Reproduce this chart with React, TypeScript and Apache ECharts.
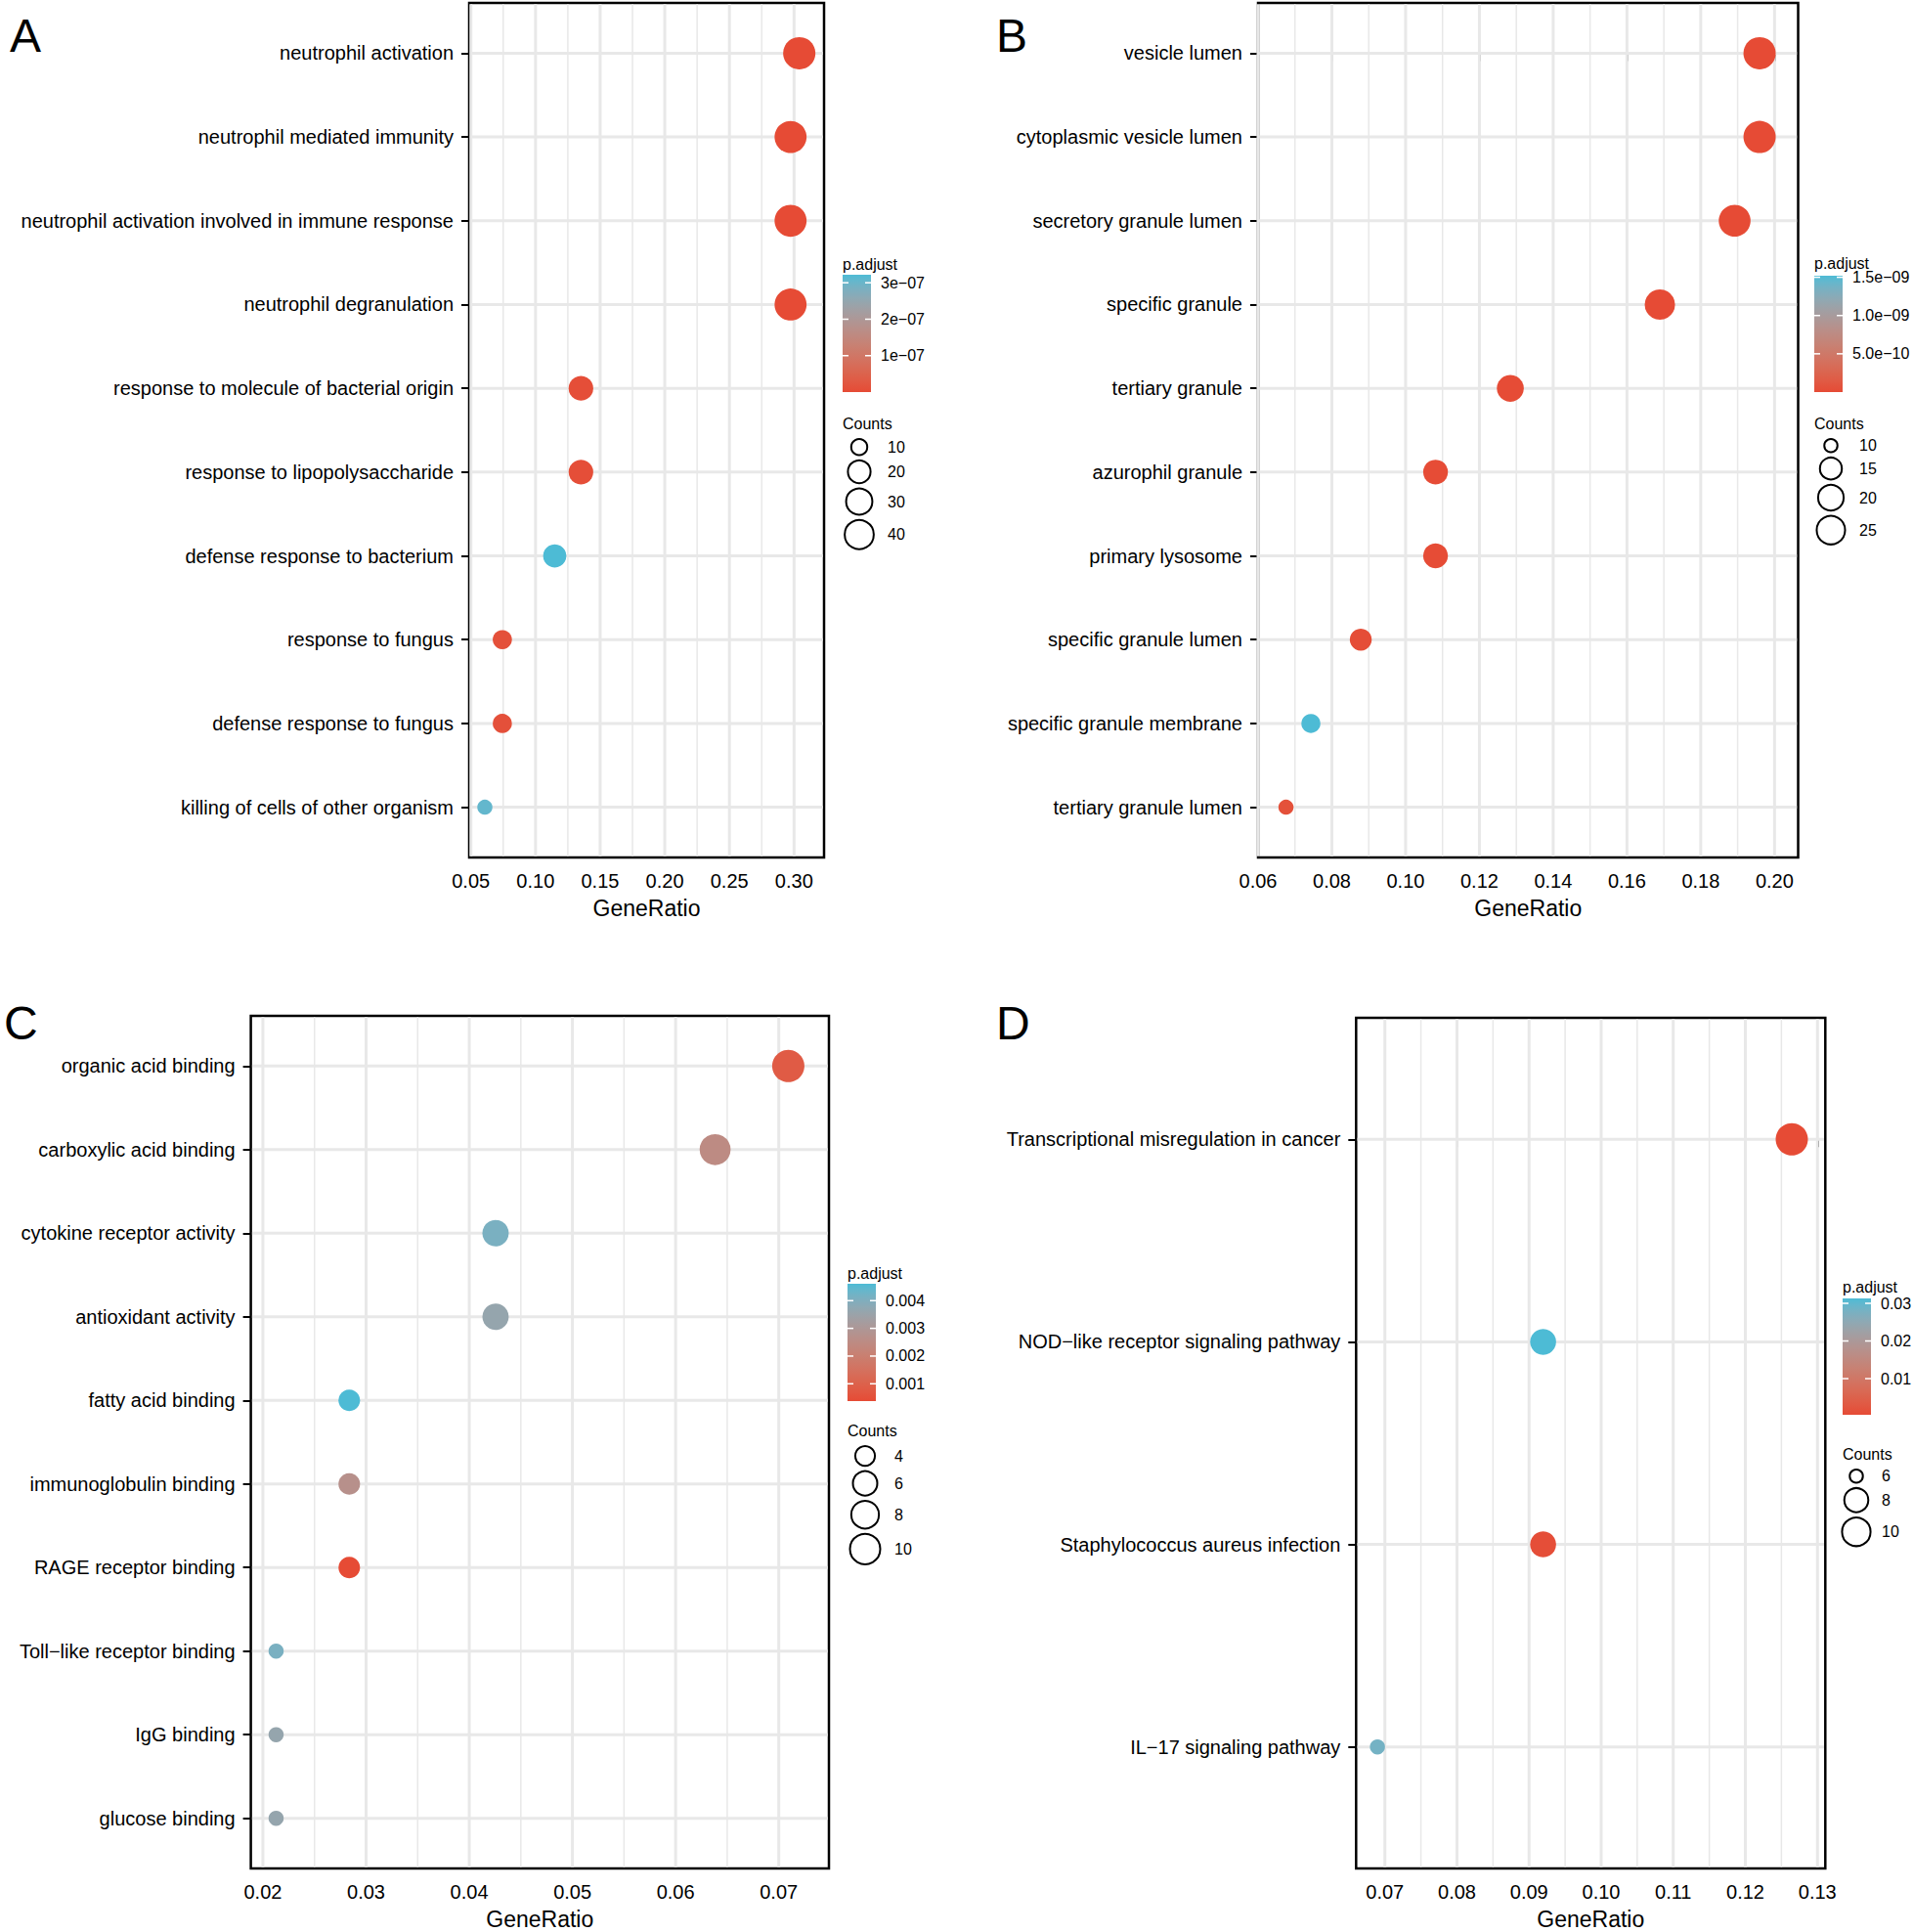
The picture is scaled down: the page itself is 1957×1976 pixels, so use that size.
import React, { useEffect, useRef } from "react";
import * as echarts from "echarts";

const FONT = "'Liberation Sans', Arial, Helvetica, sans-serif";
const LOW = "#E64B35";
const HIGH = "#4DBBD5";
const GRID_COLOR = "#E8E8E8";

// ---------- Panel A ----------
const catsA = [
  "neutrophil activation",
  "neutrophil mediated immunity",
  "neutrophil activation involved in immune response",
  "neutrophil degranulation",
  "response to molecule of bacterial origin",
  "response to lipopolysaccharide",
  "defense response to bacterium",
  "response to fungus",
  "defense response to fungus",
  "killing of cells of other organism",
];
const ratioA = [0.30405, 0.2973, 0.2973, 0.2973, 0.13514, 0.13514, 0.11486, 0.07432, 0.07432, 0.06081];
const countA = [45, 44, 44, 44, 20, 20, 17, 11, 11, 9];
const padjA = [1.0e-10, 1.2e-10, 1.2e-10, 1.5e-10, 6e-9, 6e-9, 3.22e-7, 1.0e-8, 1.0e-8, 3.06e-7];
const xRangeA = [0.0487, 0.3232];
const xTicksA = [0.05, 0.1, 0.15, 0.2, 0.25, 0.3];
const xMinorA = [0.075, 0.125, 0.175, 0.225, 0.275];
const cTicksA = [1e-7, 2e-7, 3e-7];
const cLabelsA = ["1e\u221207", "2e\u221207", "3e\u221207"];
const sizeLegendA = [10, 20, 30, 40];

// ---------- Panel B ----------
const catsB = [
  "vesicle lumen",
  "cytoplasmic vesicle lumen",
  "secretory granule lumen",
  "specific granule",
  "tertiary granule",
  "azurophil granule",
  "primary lysosome",
  "specific granule lumen",
  "specific granule membrane",
  "tertiary granule lumen",
];
const ratioB = [0.19595, 0.19595, 0.18919, 0.16892, 0.12838, 0.10811, 0.10811, 0.08784, 0.07432, 0.06757];
const countB = [29, 29, 28, 25, 19, 16, 16, 13, 11, 10];
const padjB = [1e-14, 1e-14, 2e-13, 1e-12, 5e-12, 1e-11, 1e-11, 2e-11, 1.52e-9, 5e-11];
const xRangeB = [0.0600, 0.2064];
const xTicksB = [0.06, 0.08, 0.1, 0.12, 0.14, 0.16, 0.18, 0.2];
const xMinorB = [0.07, 0.09, 0.11, 0.13, 0.15, 0.17, 0.19];
const cTicksB = [5e-10, 1e-9, 1.5e-9];
const cLabelsB = ["5.0e\u221210", "1.0e\u221209", "1.5e\u221209"];
const sizeLegendB = [10, 15, 20, 25];

// ---------- Panel C ----------
const catsC = [
  "organic acid binding",
  "carboxylic acid binding",
  "cytokine receptor activity",
  "antioxidant activity",
  "fatty acid binding",
  "immunoglobulin binding",
  "RAGE receptor binding",
  "Toll\u2212like receptor binding",
  "IgG binding",
  "glucose binding",
];
const ratioC = [0.07092, 0.06383, 0.04255, 0.04255, 0.02837, 0.02837, 0.02837, 0.02128, 0.02128, 0.02128];
const countC = [10, 9, 6, 6, 4, 4, 4, 3, 3, 3];
const padjC = [0.0008, 0.0025, 0.0041, 0.0036, 0.00461, 0.0027, 0.000375, 0.0041, 0.0036, 0.0036];
const xRangeC = [0.01883, 0.07486];
const xTicksC = [0.02, 0.03, 0.04, 0.05, 0.06, 0.07];
const xMinorC = [0.025, 0.035, 0.045, 0.055, 0.065];
const cTicksC = [0.001, 0.002, 0.003, 0.004];
const cLabelsC = ["0.001", "0.002", "0.003", "0.004"];
const sizeLegendC = [4, 6, 8, 10];

// ---------- Panel D ----------
const catsD = [
  "Transcriptional misregulation in cancer",
  "NOD\u2212like receptor signaling pathway",
  "Staphylococcus aureus infection",
  "IL\u221217 signaling pathway",
];
const ratioD = [0.12644, 0.09195, 0.09195, 0.06897];
const countD = [11, 8, 8, 6];
const padjD = [0.0004, 0.0313, 0.001, 0.0282];
const xRangeD = [0.06601, 0.13109];
const xTicksD = [0.07, 0.08, 0.09, 0.1, 0.11, 0.12, 0.13];
const xMinorD = [0.075, 0.085, 0.095, 0.105, 0.115, 0.125];
const cTicksD = [0.01, 0.02, 0.03];
const cLabelsD = ["0.01", "0.02", "0.03"];
const sizeLegendD = [6, 8, 10];

// ---------- colour helpers (CIELAB interpolation like ggplot2) ----------
function hexToRgb(h: string) {
  const n = parseInt(h.slice(1), 16);
  return [(n >> 16) & 255, (n >> 8) & 255, n & 255];
}
function toLin(c: number) {
  c /= 255;
  return c <= 0.04045 ? c / 12.92 : Math.pow((c + 0.055) / 1.055, 2.4);
}
function fromLin(c: number) {
  const v = c <= 0.0031308 ? 12.92 * c : 1.055 * Math.pow(c, 1 / 2.4) - 0.055;
  return Math.round(Math.max(0, Math.min(1, v)) * 255);
}
const Xn = 0.95047, Yn = 1.0, Zn = 1.08883;
function f(t: number) {
  return t > 0.008856 ? Math.cbrt(t) : 7.787 * t + 16 / 116;
}
function finv(t: number) {
  return t > 0.206893 ? t * t * t : (t - 16 / 116) / 7.787;
}
function rgbToLab(rgb: number[]) {
  const [r, g, b] = rgb.map(toLin);
  const X = 0.4124 * r + 0.3576 * g + 0.1805 * b;
  const Y = 0.2126 * r + 0.7152 * g + 0.0722 * b;
  const Z = 0.0193 * r + 0.1192 * g + 0.9505 * b;
  const fx = f(X / Xn), fy = f(Y / Yn), fz = f(Z / Zn);
  return [116 * fy - 16, 500 * (fx - fy), 200 * (fy - fz)];
}
function labToHex(lab: number[]) {
  const [L, a, bb] = lab;
  const fy = (L + 16) / 116;
  const fx = fy + a / 500;
  const fz = fy - bb / 200;
  const X = Xn * finv(fx), Y = Yn * finv(fy), Z = Zn * finv(fz);
  const r = 3.2406 * X - 1.5372 * Y - 0.4986 * Z;
  const g = -0.9689 * X + 1.8758 * Y + 0.0415 * Z;
  const b = 0.0557 * X - 0.204 * Y + 1.057 * Z;
  const h = (v: number) => fromLin(v).toString(16).padStart(2, "0");
  return "#" + h(r) + h(g) + h(b);
}
const LAB_LOW = rgbToLab(hexToRgb(LOW));
const LAB_HIGH = rgbToLab(hexToRgb(HIGH));
function gradColor(t: number) {
  t = Math.max(0, Math.min(1, t));
  return labToHex(LAB_LOW.map((v, i) => v + (LAB_HIGH[i] - v) * t));
}

function dotSize(c: number, cmin: number, cmax: number) {
  const s = cmax > cmin ? Math.sqrt(Math.max(0, (c - cmin) / (cmax - cmin))) : 1;
  return 15.5 + 17.5 * s;
}

// ---------- layout (positions only) ----------
const panels = [
  {
    letter: "A", cats: catsA, ratio: ratioA, count: countA, padj: padjA, xRange: xRangeA,
    xTicks: xTicksA, xMinor: xMinorA, cTicks: cTicksA, cLabels: cLabelsA, sizeLegend: sizeLegendA,
    grid: { left: 480, top: 3, width: 363, height: 874 },
    letterPos: [10, 36],
    leg: { x: 862, titleY: 270, barY: 281, barH: 120, countY: 433, circleX: 879, labelX: 908 },
  },
  {
    letter: "B", cats: catsB, ratio: ratioB, count: countB, padj: padjB, xRange: xRangeB,
    xTicks: xTicksB, xMinor: xMinorB, cTicks: cTicksB, cLabels: cLabelsB, sizeLegend: sizeLegendB,
    grid: { left: 1287, top: 3, width: 552.5, height: 874 },
    letterPos: [1019, 36],
    leg: { x: 1856, titleY: 269, barY: 282, barH: 119, countY: 433, circleX: 1873, labelX: 1902 },
  },
  {
    letter: "C", cats: catsC, ratio: ratioC, count: countC, padj: padjC, xRange: xRangeC,
    xTicks: xTicksC, xMinor: xMinorC, cTicks: cTicksC, cLabels: cLabelsC, sizeLegend: sizeLegendC,
    grid: { left: 256.6, top: 1039, width: 591.4, height: 872 },
    letterPos: [4, 1046],
    leg: { x: 867, titleY: 1302, barY: 1313, barH: 120, countY: 1463, circleX: 885, labelX: 915 },
  },
  {
    letter: "D", cats: catsD, ratio: ratioD, count: countD, padj: padjD, xRange: xRangeD,
    xTicks: xTicksD, xMinor: xMinorD, cTicks: cTicksD, cLabels: cLabelsD, sizeLegend: sizeLegendD,
    grid: { left: 1387.3, top: 1041, width: 480, height: 870 },
    letterPos: [1019, 1046],
    leg: { x: 1885, titleY: 1316, barY: 1328, barH: 119, countY: 1487, circleX: 1899, labelX: 1925 },
  },
];

function buildOption() {
  const grids: any[] = [];
  const xAxes: any[] = [];
  const yAxes: any[] = [];
  const series: any[] = [];
  const graphics: any[] = [];

  panels.forEach((p, i) => {
    const n = p.cats.length;
    const idx = p.cats.map((_, k) => k);
    const cmin = Math.min(...p.count), cmax = Math.max(...p.count);
    const pmin = Math.min(...p.padj), pmax = Math.max(...p.padj);
    const yMin = -0.6, yMax = n - 0.4;

    grids.push({
      left: p.grid.left, top: p.grid.top, width: p.grid.width, height: p.grid.height,
      show: true, borderColor: "#000", borderWidth: 2.5, backgroundColor: "transparent",
      containLabel: false, outerBoundsMode: "none",
    });
    xAxes.push({
      type: "value", gridIndex: i, min: p.xRange[0], max: p.xRange[1],
      name: "GeneRatio", nameLocation: "middle", nameGap: 40,
      nameTextStyle: { fontSize: 23, color: "#000", fontFamily: FONT },
      axisLine: { show: false },
      axisTick: { show: true, length: 8, lineStyle: { color: "#000", width: 2 }, customValues: p.xTicks },
      axisLabel: {
        customValues: p.xTicks, formatter: (v: number) => v.toFixed(2),
        fontSize: 20, color: "#000", margin: 14, fontFamily: FONT,
      },
      splitLine: { show: false },
    });
    yAxes.push({
      type: "value", gridIndex: i, min: yMin, max: yMax, inverse: true,
      axisLine: { show: false },
      splitLine: { show: false },
      axisTick: { show: true, length: 8, lineStyle: { color: "#000", width: 2 }, customValues: idx },
      axisLabel: {
        customValues: idx, formatter: (v: number) => p.cats[Math.round(v)] ?? "",
        fontSize: 20, color: "#000", margin: 16, fontFamily: FONT,
      },
    });

    // grid lines: one custom series, kind 1 = major vertical, 0 = minor vertical, 2 = horizontal
    const gdata = [
      ...p.xTicks.map((v) => [v, yMin, 1]),
      ...p.xMinor.map((v) => [v, yMin, 0]),
      ...idx.map((k) => [p.xRange[0], k, 2]),
    ];
    series.push({
      type: "custom", xAxisIndex: i, yAxisIndex: i, silent: true, z: 1,
      data: gdata,
      renderItem: (params: any, api: any) => {
        const cs = params.coordSys;
        const kind = api.value(2);
        const pt = api.coord([api.value(0), api.value(1)]);
        if (kind === 2) {
          return {
            type: "line",
            shape: { x1: cs.x + 1.3, y1: pt[1], x2: cs.x + cs.width - 1.3, y2: pt[1] },
            style: { stroke: GRID_COLOR, lineWidth: 3 },
          };
        }
        return {
          type: "line",
          shape: { x1: pt[0], y1: cs.y + 1.3, x2: pt[0], y2: cs.y + cs.height - 1.3 },
          style: { stroke: GRID_COLOR, lineWidth: kind === 1 ? 3 : 1.5 },
        };
      },
    });
    // dots
    series.push({
      type: "scatter", xAxisIndex: i, yAxisIndex: i, z: 3, silent: true,
      data: p.ratio.map((r, k) => ({
        value: [r, k, p.count[k], p.padj[k]],
        symbolSize: dotSize(p.count[k], cmin, cmax),
        itemStyle: { color: gradColor((p.padj[k] - pmin) / (pmax - pmin)), opacity: 1 },
      })),
      symbol: "circle",
    });

    // panel letter
    graphics.push({
      type: "text", x: p.letterPos[0], y: p.letterPos[1],
      style: { text: p.letter, fontSize: 48, fontFamily: FONT, fill: "#000", align: "left", verticalAlign: "middle" },
    });

    // colour bar legend
    const L = p.leg;
    const barW = 29;
    graphics.push({
      type: "text", x: L.x, y: L.titleY,
      style: { text: "p.adjust", fontSize: 16, fontFamily: FONT, fill: "#000", align: "left", verticalAlign: "middle" },
    });
    const stops = [];
    for (let s = 0; s <= 20; s++) stops.push({ offset: s / 20, color: gradColor(s / 20) });
    graphics.push({
      type: "rect", shape: { x: L.x, y: L.barY, width: barW, height: L.barH },
      style: { fill: new echarts.graphic.LinearGradient(0, 1, 0, 0, stops), stroke: "none" },
    });
    p.cTicks.forEach((v, k) => {
      const y = L.barY + L.barH - ((v - pmin) / (pmax - pmin)) * L.barH;
      graphics.push({
        type: "line", shape: { x1: L.x, y1: y, x2: L.x + 6, y2: y },
        style: { stroke: "#fff", lineWidth: 1.5 },
      });
      graphics.push({
        type: "line", shape: { x1: L.x + barW - 6, y1: y, x2: L.x + barW, y2: y },
        style: { stroke: "#fff", lineWidth: 1.5 },
      });
      graphics.push({
        type: "text", x: L.x + barW + 10, y,
        style: { text: p.cLabels[k], fontSize: 16, fontFamily: FONT, fill: "#000", align: "left", verticalAlign: "middle" },
      });
    });

    // size legend
    graphics.push({
      type: "text", x: L.x, y: L.countY,
      style: { text: "Counts", fontSize: 16, fontFamily: FONT, fill: "#000", align: "left", verticalAlign: "middle" },
    });
    let cy = L.countY + 15;
    let prevD = 0;
    p.sizeLegend.forEach((c, k) => {
      const d = dotSize(c, cmin, cmax);
      cy += k === 0 ? d / 2 : (prevD + d) / 2 + 3.5;
      prevD = d;
      graphics.push({
        type: "circle", shape: { cx: L.circleX, cy, r: d / 2 - 1 },
        style: { fill: "none", stroke: "#000", lineWidth: 2 },
      });
      graphics.push({
        type: "text", x: L.labelX, y: cy,
        style: { text: String(c), fontSize: 16, fontFamily: FONT, fill: "#000", align: "left", verticalAlign: "middle" },
      });
    });
  });

  return {
    animation: false,
    backgroundColor: "#fff",
    textStyle: { fontFamily: FONT },
    grid: grids,
    xAxis: xAxes,
    yAxis: yAxes,
    series,
    graphic: graphics,
  };
}

export default function App() {
  const ref = useRef<HTMLDivElement>(null);
  useEffect(() => {
    if (!ref.current) return;
    const chart = echarts.init(ref.current, null, { renderer: "svg" });
    chart.setOption(buildOption() as any);
    return () => chart.dispose();
  }, []);
  return (
    <div
      ref={ref}
      style={{ position: "absolute", left: 0, top: 0, width: 1957, height: 1976, background: "#fff" }}
    />
  );
}
